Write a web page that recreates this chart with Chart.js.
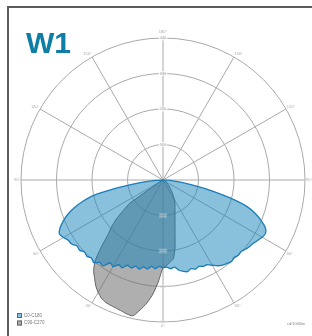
<!DOCTYPE html>
<html>
<head>
<meta charset="utf-8">
<script src="https://cdn.jsdelivr.net/npm/chart.js@4.4.1/dist/chart.umd.min.js"></script>
<style>
  body { margin: 0; background: #fff; }
  #wrap { position: relative; width: 312px; height: 336px; overflow: hidden; background: #fff; }
  #frame { position: absolute; left: 7px; top: 6px; width: 400px; height: 400px;
           border-top: 2px solid #5c5c5c; border-left: 2px solid #5c5c5c; }
  #title { position: absolute; left: 26px; top: 28px; color: #0e7ea6;
           font: bold 30px/30px "Liberation Sans", Arial, sans-serif; }
  canvas { position: absolute; left: 0; top: 0; }
</style>
</head>
<body>
<div id="wrap">
  <div id="frame"></div>
  <canvas id="ldc" width="312" height="336"></canvas>
  <div id="title">W1</div>
</div>
<script>
// luminous intensity in cd/1000lm, gamma 0..180 deg in 2.5 deg steps
const gammaStep = 2.5
const spokeEvery = 12 // one spoke every 30 deg

// C0-C180 plane (C180 drawn on the left, C0 on the right)
const c180 = [272, 268, 276, 270, 280, 276, 286, 280, 290, 286, 300, 296, 310, 304, 325, 322, 334, 328,
  334, 330, 338, 336, 346, 348, 356, 362, 352, 335, 315, 290, 258, 218, 150, 90, 48, 20, 0,
  0, 0, 0, 0, 0, 0, 0, 0, 0, 0, 0, 0, 0, 0, 0, 0, 0, 0, 0, 0, 0, 0, 0, 0, 0, 0, 0, 0, 0, 0, 0, 0, 0, 0, 0, 0]
const c0 = [272, 270, 276, 272, 284, 290, 294, 288, 294, 290, 295, 296, 305, 315, 322, 326, 330, 326,
  330, 328, 334, 338, 342, 348, 355, 358, 350, 330, 305, 272, 215, 155, 100, 58, 30, 12, 0,
  0, 0, 0, 0, 0, 0, 0, 0, 0, 0, 0, 0, 0, 0, 0, 0, 0, 0, 0, 0, 0, 0, 0, 0, 0, 0, 0, 0, 0, 0, 0, 0, 0, 0, 0, 0]

// C90-C270 plane (C270 on the left, C90 on the right)
const c270 = [272, 313, 354, 385, 409, 431, 430, 426, 423, 421, 419, 413, 402, 388, 370, 353, 327, 285,
  243, 217, 190, 155, 125, 20, 5, 0, 0, 0, 0, 0, 0, 0, 0, 0, 0, 0, 0,
  0, 0, 0, 0, 0, 0, 0, 0, 0, 0, 0, 0, 0, 0, 0, 0, 0, 0, 0, 0, 0, 0, 0, 0, 0, 0, 0, 0, 0, 0, 0, 0, 0, 0, 0, 0]
const c90 = [272, 265, 255, 246, 214, 172, 144, 124, 109, 97, 88, 80, 70, 60, 52, 45, 38, 33,
  28, 24, 20, 17, 14, 11, 9, 7, 5, 4, 3, 2, 1, 0, 0, 0, 0, 0, 0,
  0, 0, 0, 0, 0, 0, 0, 0, 0, 0, 0, 0, 0, 0, 0, 0, 0, 0, 0, 0, 0, 0, 0, 0, 0, 0, 0, 0, 0, 0, 0, 0, 0, 0, 0, 0]

const seriesNames = ['C0-C180', 'C90-C270']
const radialTicks = [110, 220, 330, 440]
const angleLabels = ['0°', '30°', '60°', '90°', '120°', '150°', '180°', '150°', '120°', '90°', '60°', '30°']
const unitLabel = 'cd/1000lm'

// radar goes clockwise from the bottom: left half first, then right half coming back down
const blueData = c180.concat(c0.slice(1, 72).reverse())
const grayData = c270.concat(c90.slice(1, 72).reverse())
const radarLabels = blueData.map((_, i) => i * gammaStep)

const blueFill = 'rgba(20, 130, 185, 0.5)'
const blueLine = '#1a7db8'
const grayFill = 'rgba(110, 110, 112, 0.55)'
const grayLine = '#626262'

const ldcDecor = {
  id: 'ldcDecor',
  afterDatasetsDraw(chart) {
    const { ctx } = chart
    const r = chart.scales.r
    ctx.save()
    ctx.font = '4px "Liberation Sans", Arial, sans-serif'

    // intensity values along the vertical axis, top and bottom
    ctx.textAlign = 'center'
    ctx.textBaseline = 'middle'
    radialTicks.forEach(v => {
      const d = r.getDistanceFromCenterForValue(v)
      const w = ctx.measureText(String(v)).width + 2
      ;[-1, 1].forEach(s => {
        const y = r.yCenter + s * d
        // light backdrop only on the white upper half; below, the text sits on the fills
        ctx.fillStyle = s < 0 ? 'rgba(255,255,255,0.75)' : 'rgba(255,255,255,0.2)'
        ctx.fillRect(r.xCenter - w / 2, y - 2.5, w, 5)
        ctx.fillStyle = s < 0 ? '#a8a8a8' : 'rgba(200,200,200,0.8)'
        ctx.fillText(String(v), r.xCenter, y)
      })
    })

    // gamma labels at the end of each spoke
    ctx.fillStyle = '#a8a8a8'
    angleLabels.forEach((txt, k) => {
      const idx = k * spokeEvery
      if (k === 0 || k === 6) {
        const p = r.getPointPosition(idx, r.drawingArea + (k === 0 ? 4 : 6))
        ctx.textAlign = 'center'
        ctx.textBaseline = 'middle'
        ctx.fillText(txt, p.x, p.y)
        return
      }
      const p = r.getPointPosition(idx, r.drawingArea + 1)
      ctx.textAlign = k < 6 ? 'right' : 'left'
      const g = k < 6 ? k * 30 : (12 - k) * 30
      ctx.textBaseline = g < 90 ? 'top' : g > 90 ? 'bottom' : 'middle'
      ctx.fillText(txt, p.x, p.y)
    })
    ctx.restore()
  },
  afterDraw(chart) {
    const { ctx } = chart
    ctx.save()
    ctx.font = '4.5px "Liberation Sans", Arial, sans-serif'
    ctx.textAlign = 'left'
    ctx.textBaseline = 'middle'
    chart.data.datasets.forEach((ds, i) => {
      const y = 313 + i * 7.5
      ctx.fillStyle = '#fff'
      ctx.fillRect(17, y, 5, 5)
      ctx.fillStyle = ds.backgroundColor
      ctx.fillRect(17, y, 5, 5)
      ctx.strokeStyle = ds.borderColor
      ctx.lineWidth = 1
      ctx.strokeRect(17.5, y + 0.5, 4, 4)
      ctx.fillStyle = '#777'
      ctx.fillText(ds.label, 24, y + 2.7)
    })
    ctx.font = '4px "Liberation Sans", Arial, sans-serif'
    ctx.fillStyle = '#888'
    ctx.fillText(unitLabel, 287, 324)
    ctx.restore()
  },
}

new Chart(document.getElementById('ldc'), {
  type: 'radar',
  data: {
    labels: radarLabels,
    datasets: [
      {
        label: seriesNames[0],
        data: blueData,
        borderColor: blueLine,
        backgroundColor: blueFill,
        borderWidth: 1.3,
        fill: true,
        pointRadius: 0,
        tension: 0.2,
      },
      {
        label: seriesNames[1],
        data: grayData,
        borderColor: grayLine,
        backgroundColor: grayFill,
        borderWidth: 1,
        fill: true,
        pointRadius: 0,
        tension: 0.2,
      },
    ],
  },
  options: {
    responsive: false,
    devicePixelRatio: 1,
    animation: false,
    layout: { padding: { left: 21, right: 7, top: 38, bottom: 14 } },
    plugins: {
      legend: { display: false },
      tooltip: { enabled: false },
    },
    scales: {
      r: {
        min: 0,
        max: 440,
        startAngle: 180,
        ticks: { display: false, stepSize: 110 },
        grid: { circular: true, color: '#a9a9a9', lineWidth: 1 },
        angleLines: {
          color: '#a9a9a9',
          lineWidth: ctx => (ctx.index % spokeEvery === 0 ? 1 : 0),
        },
        pointLabels: { display: false },
      },
    },
  },
  plugins: [ldcDecor],
})
</script>
</body>
</html>
